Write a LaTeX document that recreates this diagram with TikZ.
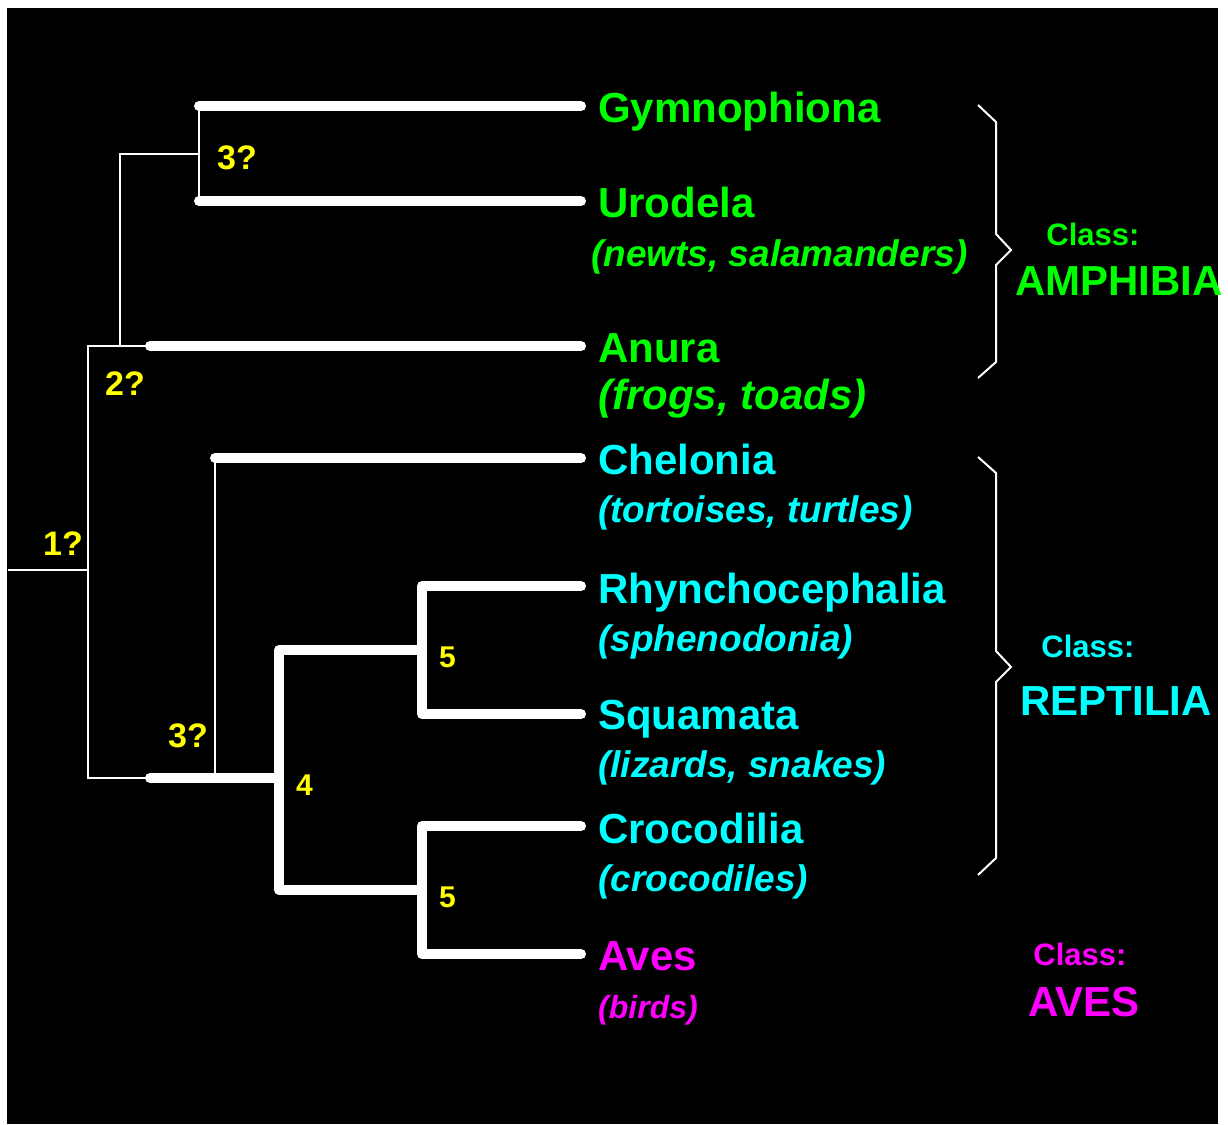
\documentclass[tikz,border=0pt]{standalone}
\usepackage{fontspec}
\setmainfont{Liberation Sans}
\usepackage{tikz}
\definecolor{amphgreen}{RGB}{0,255,0}
\definecolor{reptcyan}{RGB}{0,255,255}
\definecolor{avesmagenta}{RGB}{255,0,255}
\definecolor{cladeyellow}{RGB}{255,255,0}
\newcommand{\fs}[1]{\fontsize{#1}{#1}\selectfont}

\begin{document}
\begin{tikzpicture}[x=1pt, y=-1pt,
  thinbranch/.style={white, line width=2pt},
  thickbranch/.style={white, line width=10pt, line cap=round, line join=round},
  bracket/.style={white, line width=2pt},
  taxon/.style={anchor=base west, inner sep=0pt, font=\fs{42}\bfseries},
  common/.style={anchor=base west, inner sep=0pt, font=\fs{37}\bfseries\itshape},
  clade/.style={anchor=base west, inner sep=0pt, text=cladeyellow, font=\fs{34}\bfseries},
  rank/.style={anchor=base, inner sep=0pt, font=\fs{31}\bfseries},
  classname/.style={anchor=base, inner sep=0pt, font=\fs{42}\bfseries}]
% Fond
\fill[white] (0,0) rectangle (1228,1124);
\fill[black] (7,8) rectangle (1218,1124);
\useasboundingbox (0,0) rectangle (1228,1124);

% Points de l'arbre
\coordinate (root) at (8,570);
\coordinate (n1) at (88,570);
\coordinate (n1top) at (88,346);
\coordinate (n1bot) at (88,778);
\coordinate (n2) at (120,346);
\coordinate (anubase) at (150,346);
\coordinate (n3a) at (120,154);
\coordinate (n3aright) at (199,154);
\coordinate (gymbase) at (199,106);
\coordinate (urobase) at (199,201);
\coordinate (repbase) at (150,778);
\coordinate (n3b) at (215,778);
\coordinate (chebase) at (215,458);
\coordinate (n4) at (279,778);
\coordinate (n4top) at (279,650);
\coordinate (n4bot) at (279,890);
\coordinate (n5a) at (422,650);
\coordinate (n5atop) at (422,586);
\coordinate (n5abot) at (422,714);
\coordinate (n5b) at (422,890);
\coordinate (n5btop) at (422,826);
\coordinate (n5bbot) at (422,954);
% Extrémités des branches
\coordinate (gym) at (581,106);
\coordinate (uro) at (581,201);
\coordinate (anu) at (581,346);
\coordinate (che) at (581,458);
\coordinate (rhy) at (581,586);
\coordinate (squ) at (581,714);
\coordinate (cro) at (581,826);
\coordinate (ave) at (581,954);

% Branches fines
\draw[thinbranch] (root) -- (n1);
\draw[thinbranch] (anubase) -- (n1top) -- (n1bot) -- (repbase);
\draw[thinbranch] (n2) -- (n3a) -- (n3aright);
\draw[thinbranch] (gymbase) -- (urobase);
\draw[thinbranch] (n3b) -- (chebase);

% Branches épaisses
\draw[thickbranch] (gymbase) -- (gym);
\draw[thickbranch] (urobase) -- (uro);
\draw[thickbranch] (anubase) -- (anu);
\draw[thickbranch] (chebase) -- (che);
\draw[thickbranch] (repbase) -- (n4);
\draw[thickbranch] (n5a) -- (n4top) -- (n4bot) -- (n5b);
\draw[thickbranch] (rhy) -- (n5atop) -- (n5abot) -- (squ);
\draw[thickbranch] (cro) -- (n5btop) -- (n5bbot) -- (ave);

% Numéros des noeuds
\node[clade] (c1) at (43,555) {1?};
\node[clade] (c2) at (105,395) {2?};
\node[clade] (c3a) at (217,169) {3?};
\node[clade] (c3b) at (168,747) {3?};
\node[clade, font=\fs{30}\bfseries] (c4) at (296,795) {4};
\node[clade, font=\fs{30}\bfseries] (c5a) at (439,667) {5};
\node[clade, font=\fs{30}\bfseries] (c5b) at (439,907) {5};

% Taxons
\node[taxon, text=amphgreen] (gymlab) at (598,122) {Gymnophiona};
\node[taxon, text=amphgreen] (urolab) at (598,217) {Urodela};
\node[common, text=amphgreen] (urocom) at (591,266) {(newts, salamanders)};
\node[taxon, text=amphgreen] (anulab) at (598,362) {Anura};
\node[common, text=amphgreen, font=\fs{42}\bfseries\itshape] (anucom) at (598,409) {(frogs, toads)};
\node[taxon, text=reptcyan] (chelab) at (598,474) {Chelonia};
\node[common, text=reptcyan] (checom) at (598,522) {(tortoises, turtles)};
\node[taxon, text=reptcyan] (rhylab) at (598,603) {Rhynchocephalia};
\node[common, text=reptcyan] (rhycom) at (598,651) {(sphenodonia)};
\node[taxon, text=reptcyan] (squlab) at (598,729) {Squamata};
\node[common, text=reptcyan] (squcom) at (598,777) {(lizards, snakes)};
\node[taxon, text=reptcyan] (crolab) at (598,843) {Crocodilia};
\node[common, text=reptcyan] (crocom) at (598,891) {(crocodiles)};
\node[taxon, text=avesmagenta] (avelab) at (598,970) {Aves};
\node[common, text=avesmagenta, font=\fs{32}\bfseries\itshape] (avecom) at (598,1018) {(birds)};

% Accolades
\draw[bracket] (978,105) -- (996,122) -- (996,234) -- (1011,250)
  -- (996,265) -- (996,362) -- (978,378);
\draw[bracket] (978,457) -- (996,473) -- (996,651) -- (1011,667)
  -- (996,682) -- (996,858) -- (978,875);

% Classes
\node[rank, text=amphgreen] (amphrank) at (1093,245) {Class:};
\node[classname, text=amphgreen] (amphname) at (1119,295) {AMPHIBIA};
\node[rank, text=reptcyan] (reptrank) at (1088,657) {Class:};
\node[classname, text=reptcyan] (reptname) at (1116,715) {REPTILIA};
\node[rank, text=avesmagenta] (avesrank) at (1080,965) {Class:};
\node[classname, text=avesmagenta] (avesname) at (1084,1016) {AVES};
\end{tikzpicture}
\end{document}
